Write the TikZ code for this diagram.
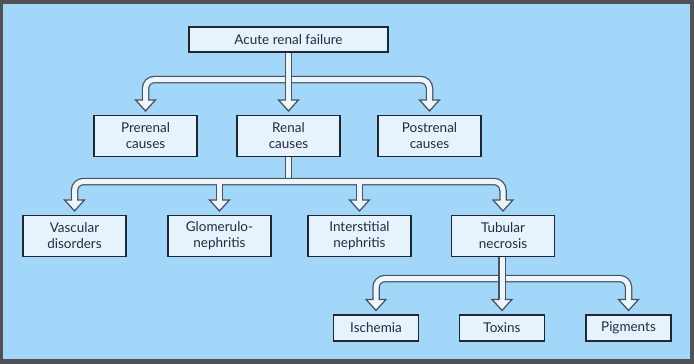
\documentclass[tikz,border=0pt]{standalone}
\usepackage{fontspec}
\setmainfont{Lato}
\usetikzlibrary{calc,backgrounds}

\definecolor{framec}{HTML}{525155}
\definecolor{bgc}{HTML}{A3D7F9}
\definecolor{boxc}{HTML}{E6F3FD}
\definecolor{edgec}{HTML}{1E2833}
\definecolor{linec}{HTML}{4A535D}
\definecolor{palec}{HTML}{EDF6FD}
\definecolor{textc}{HTML}{262A40}

\tikzset{
  box/.style={draw=edgec, fill=boxc, line width=1.1pt, inner sep=0pt,
    align=center, text=textc, font=\fontsize{13.5}{16}\selectfont},
  wide/.style={box, minimum width=103pt, minimum height=41pt},
  topbox/.style={box, minimum width=199pt, minimum height=25pt},
  small/.style={box, minimum width=85pt, minimum height=26pt},
  conn/.style={draw=linec, line width=1.25pt, double=palec,
    double distance=5pt, rounded corners=9pt},
  connout/.style={draw=linec, line width=7.5pt, rounded corners=9pt},
  connin/.style={draw=palec, line width=5pt, rounded corners=9pt},
  headedge/.style={draw=linec, line width=1.25pt, line join=miter},
}

% hollow arrow head sitting just above the top of node #1
\newcommand\drawhead[1]{%
  \fill[palec] ($(#1.north)+(-10,-15)$) -- ($(#1.north)+(10,-15)$)
    -- ($(#1.north)+(0,-4)$) -- cycle;
  \draw[headedge] ($(#1.north)+(-2.5,-15)$) -- ($(#1.north)+(-10,-15)$)
    -- ($(#1.north)+(0,-4)$) -- ($(#1.north)+(10,-15)$)
    -- ($(#1.north)+(2.5,-15)$);
}

\begin{document}
\begin{tikzpicture}[x=1pt,y=-1pt]
  \useasboundingbox (0,0) rectangle (694,364);

  % boxes
  \node[topbox] (acute) at (288.5,39.5) {Acute renal failure};

  \node[wide] (pre)   at (145.5,136) {Prerenal\\causes};
  \node[wide] (renal) at (288.5,136) {Renal\\causes};
  \node[wide] (post)  at (429.5,136) {Postrenal\\causes};

  \node[wide] (vasc)  at (74.5,236)  {Vascular\\disorders};
  \node[wide] (glom)  at (219.5,236) {Glomerulo-\\nephritis};
  \node[wide] (inter) at (359.5,236) {Interstitial\\nephritis};
  \node[wide] (tub)   at (503,236)   {Tubular\\necrosis};

  \node[small] (isch) at (376,328)   {Ischemia};
  \node[small] (tox)  at (502,328)   {Toxins};
  \node[small] (pig)  at (628.5,328) {Pigments};

  \coordinate (bar1) at (288.5,79.5);
  \coordinate (bar2) at (288.5,181.5);
  \coordinate (bar3) at (502,278.5);

  \begin{pgfonlayer}{background}
    % frame and panel
    \fill[framec] (0,0) rectangle (694,364);
    \fill[bgc] (3,4) rectangle (690,359);

    % acute renal failure -> three kinds of cause
    \draw[conn] ($(pre.north)+(0,-14)$) |- (bar1) -| ($(post.north)+(0,-14)$);
    \draw[conn] (acute.south) -- ($(renal.north)+(0,-14)$);
    \drawhead{pre}
    \drawhead{renal}
    \drawhead{post}

    % renal causes -> four groups
    \draw[conn] (renal.south) -- (bar2);
    \draw[connout] ($(vasc.north)+(0,-14)$) |- (bar2) -| ($(tub.north)+(0,-14)$);
    \draw[connout] (glom.north |- bar2) -- ($(glom.north)+(0,-14)$);
    \draw[connout] (inter.north |- bar2) -- ($(inter.north)+(0,-14)$);
    \draw[connin] ($(vasc.north)+(0,-14)$) |- (bar2) -| ($(tub.north)+(0,-14)$);
    \draw[connin] (glom.north |- bar2) -- ($(glom.north)+(0,-14)$);
    \draw[connin] (inter.north |- bar2) -- ($(inter.north)+(0,-14)$);
    \drawhead{vasc}
    \drawhead{glom}
    \drawhead{inter}
    \drawhead{tub}

    % tubular necrosis -> three origins
    \draw[conn] ($(isch.north)+(0,-14)$) |- (bar3) -| ($(pig.north)+(0,-14)$);
    \draw[conn] (tox.north |- tub.south) -- ($(tox.north)+(0,-14)$);
    \drawhead{isch}
    \drawhead{tox}
    \drawhead{pig}
  \end{pgfonlayer}
\end{tikzpicture}
\end{document}
